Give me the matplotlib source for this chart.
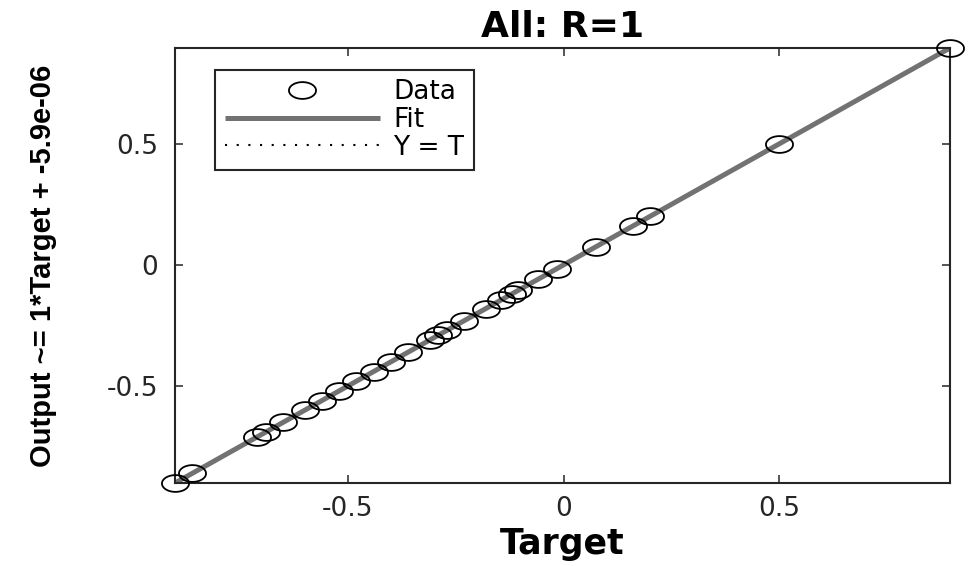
import numpy as np
import matplotlib
matplotlib.use("Agg")
import matplotlib.pyplot as plt
from matplotlib.path import Path

# targets / outputs (Output == Target)
targets = [-0.900, -0.860, -0.710, -0.690, -0.650, -0.600, -0.560, -0.520,
           -0.480, -0.440, -0.400, -0.360, -0.310, -0.290, -0.270, -0.230,
           -0.180, -0.145, -0.120, -0.105, -0.060, -0.015, 0.075, 0.160,
           0.200, 0.500, 0.895]
outputs = [-0.900, -0.860, -0.710, -0.690, -0.650, -0.600, -0.560, -0.520,
           -0.480, -0.440, -0.400, -0.360, -0.310, -0.290, -0.270, -0.230,
           -0.180, -0.145, -0.120, -0.105, -0.060, -0.015, 0.075, 0.160,
           0.200, 0.500, 0.895]
fit_slope = 1.0
fit_intercept = -5.9e-06
r_value = 1
ticks = [-0.5, 0, 0.5]
tick_labels = ["-0.5", "0", "0.5"]

plt.rcParams["font.family"] = ["DejaVu Sans"]

# flattened circle marker (source picture is stretched sideways)
theta = np.linspace(0, 2 * np.pi, 73)
ellipse = Path(np.column_stack([np.cos(theta), 0.62 * np.sin(theta)]))

fig = plt.figure(figsize=(9.68, 5.66), dpi=100)
ax = fig.add_axes([0.1808, 0.1466, 0.8006, 0.7686])

lo = min(min(targets), min(outputs))
hi = max(max(targets), max(outputs))

ax.plot(targets, outputs, linestyle="none", marker=ellipse, markersize=19.5,
        markerfacecolor="none", markeredgecolor="black", markeredgewidth=1.3,
        clip_on=False, label="Data", zorder=3)
xf = np.array([lo, hi])
ax.plot(xf, fit_slope * xf + fit_intercept, color="#727272", linewidth=3.6,
        label="Fit", zorder=2, solid_capstyle="butt")
ax.plot(xf, xf, color="black", linestyle=(0, (1, 4.6)), linewidth=1.5,
        label="Y = T", zorder=1)

ax.set_xlim(lo, hi)
ax.set_ylim(lo, hi)
ax.set_xticks(ticks)
ax.set_xticklabels(tick_labels)
ax.set_yticks(ticks)
ax.set_yticklabels(tick_labels)
ax.tick_params(direction="in", length=6, width=1.1, color="#262626",
               labelsize=19, labelcolor="#262626", top=True, right=True)
ax.tick_params(axis="x", pad=9)
ax.tick_params(axis="y", pad=12)
for s in ax.spines.values():
    s.set_linewidth(1.5)
    s.set_color("#262626")

ax.set_title(f"All: R={r_value}", fontsize=26, fontweight="bold", pad=8)
ax.set_xlabel("Target", fontsize=25, fontweight="bold", labelpad=4)
ax.set_ylabel(f"Output ~= {fit_slope:g}*Target + {fit_intercept:.2g}",
              fontsize=21, fontweight="bold", family=["Liberation Sans"],
              labelpad=36)

leg = ax.legend(loc="upper left", bbox_to_anchor=(0.052, 0.949),
                borderaxespad=0, fontsize=19, fancybox=False,
                edgecolor="#262626", framealpha=1, handlelength=5.9,
                handletextpad=0.5, labelspacing=0.06, borderpad=0.35)
leg.get_frame().set_linewidth(1.5)

fig.savefig("out.png", dpi=100)
